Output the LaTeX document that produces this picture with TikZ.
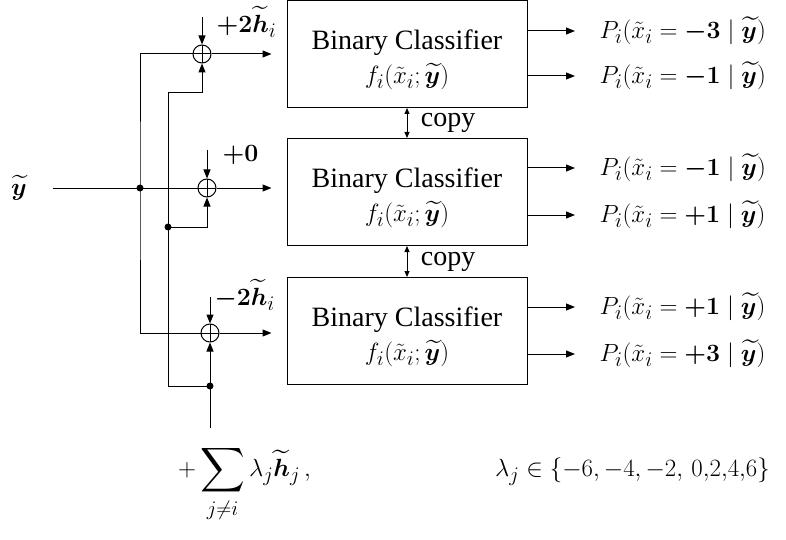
\documentclass[tikz,border=0pt]{standalone}
\usepackage{amsmath,amssymb,bm}
\usepackage{fontspec}
\setmainfont{Liberation Serif}
\usetikzlibrary{arrows.meta,positioning}

\begin{document}
\begin{tikzpicture}[
    x=1pt, y=-1pt,
    line width=1pt,
    >={Triangle[length=9pt,width=7pt]},
    every node/.style={font=\fontsize{28}{34}\selectfont},
    clf/.style={draw, minimum width=240pt, minimum height=107pt, align=center},
    adder/.style={circle, draw, minimum size=18pt, inner sep=0pt,
        path picture={\draw (path picture bounding box.north) -- (path picture bounding box.south)
            (path picture bounding box.west) -- (path picture bounding box.east);}},
    dot/.style={circle, fill, inner sep=0pt, minimum size=7pt},
    prob/.style={anchor=west, inner xsep=24pt, font=\fontsize{30}{34}\selectfont},
    offset/.style={anchor=west, inner sep=0pt}
]
    \useasboundingbox (0,0) rectangle (786,540);

    % classifiers
    \node[clf] (box1) at (407,54) {\rule{0pt}{32pt}Binary Classifier\\$f_i(\tilde{x}_i;\widetilde{\bm y})$};
    \node[clf] (box2) at (407,192) {\rule{0pt}{32pt}Binary Classifier\\$f_i(\tilde{x}_i;\widetilde{\bm y})$};
    \node[clf] (box3) at (407,331) {\rule{0pt}{32pt}Binary Classifier\\$f_i(\tilde{x}_i;\widetilde{\bm y})$};

    \draw[<->, >={Triangle[length=6pt,width=5pt]}] (box1.south) -- (box2.north) node[midway, right=10pt] {copy};
    \draw[<->, >={Triangle[length=6pt,width=5pt]}] (box2.south) -- (box3.north) node[midway, right=10pt] {copy};

    % outputs
    \node[prob] (p11) at (575,31) {$P_i(\tilde{x}_i = \bm{-3} \mid \widetilde{\bm y})$};
    \node[prob] (p12) at (575,76) {$P_i(\tilde{x}_i = \bm{-1} \mid \widetilde{\bm y})$};
    \node[prob] (p21) at (575,168) {$P_i(\tilde{x}_i = \bm{-1} \mid \widetilde{\bm y})$};
    \node[prob] (p22) at (575,215) {$P_i(\tilde{x}_i = \bm{+1} \mid \widetilde{\bm y})$};
    \node[prob] (p31) at (575,307) {$P_i(\tilde{x}_i = \bm{+1} \mid \widetilde{\bm y})$};
    \node[prob] (p32) at (575,354) {$P_i(\tilde{x}_i = \bm{+3} \mid \widetilde{\bm y})$};
    \foreach \b/\p in {box1/p11, box1/p12, box2/p21, box2/p22, box3/p31, box3/p32}
        \draw[->] (\b.east |- \p) -- (\p.west);

    % adders
    \node[adder] (add1) at (202,54) {};
    \node[adder] (add2) at (207,188) {};
    \node[adder] (add3) at (210,333) {};
    \foreach \a/\b in {add1/box1, add2/box2, add3/box3}
        \draw[->, shorten >=15pt] (\a.east) -- (\a -| \b.west);

    % shifts
    \coordinate (h1) at (202,17);
    \coordinate (h2) at (207,150);
    \coordinate (h3) at (210,297);
    \draw[->] (h1) -- (add1.north);
    \draw[->] (h2) -- (add2.north);
    \draw[->] (h3) -- (add3.north);
    \node[offset] (s1) at (216,22) {$\bm{+2}\widetilde{\bm h}_i$};
    \node[offset] (s2) at (222,155) {$\bm{+0}$};
    \node[offset] (s3) at (214,295) {$\bm{-2}\widetilde{\bm h}_i$};

    % input
    \node (yin) at (19,188) {$\widetilde{\bm y}$};
    \node[dot] (dot1) at (140,188) {};
    \node[dot] (dot2) at (168,227) {};
    \node[dot] (dot3) at (210,386) {};
    \coordinate (c1) at (168,93);
    \coordinate (c3) at (210,428);
    \draw[shorten <=22pt] (yin.east) -- (add2.west);
    \draw (add1.west) -| (dot1.center) |- (add3.west);
    \draw[->] (dot3.center) -| (c1) -| (add1.south);
    \draw[->] (dot2.center) -| (add2.south);
    \draw[->] (c3) -- (add3.south);

    % other shifts
    \node[font=\fontsize{31}{36}\selectfont] (sum) at (474,484) {$\displaystyle +\sum_{j\neq i}\lambda_j\widetilde{\bm h}_j\,,\hspace{180pt}
        \lambda_j\in\{-6,-4,-2,\,0{,}2{,}4{,}6\}$};
\end{tikzpicture}
\end{document}
